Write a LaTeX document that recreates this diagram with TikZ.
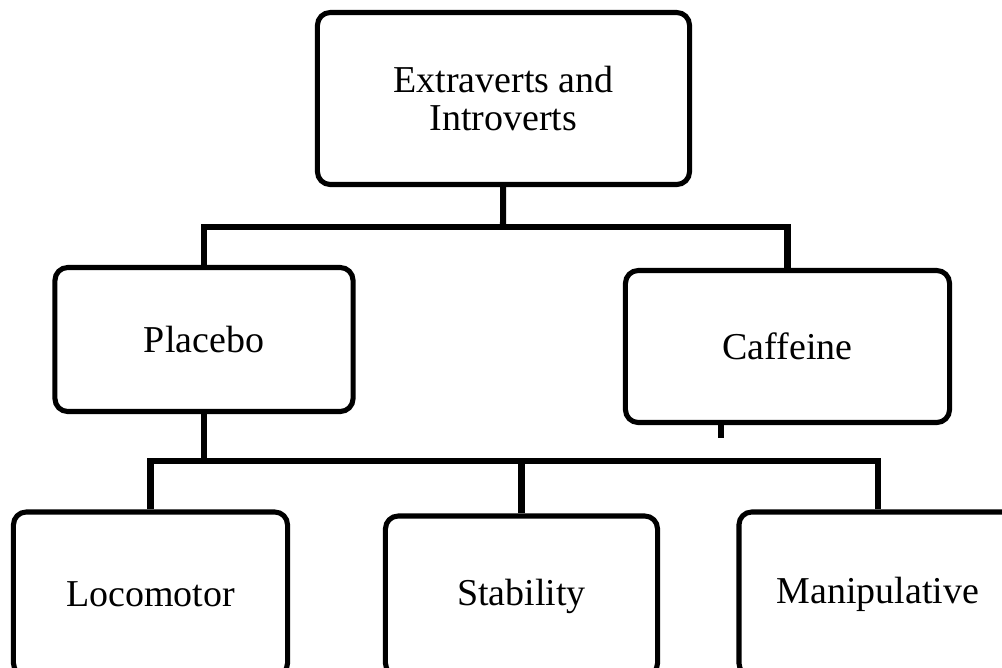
\documentclass[tikz,border=0pt]{standalone}
\usepackage{fontspec}
\setmainfont{Liberation Serif}
\usepackage{tikz}
\usetikzlibrary{positioning, calc}
\tikzstyle{box} = [rectangle, draw, line width=3.6pt, rounded corners=0.32cm, align=center, inner sep=0pt, font=\fontsize{27}{27}\selectfont]
\tikzstyle{line} = [draw, line width=4.3pt]

\begin{document}
\begin{tikzpicture}[x=0.025cm, y=-0.025cm]
        \clip (0,0) rectangle (1002,667);
        \useasboundingbox (0,0) rectangle (1002,667);

        % Nodes
        \node (group) [box, minimum width=9.3cm, minimum height=4.3cm] at (503.5,98.5) {Extraverts and\\Introverts};
        \node (placebo) [box, minimum width=7.45cm, minimum height=3.6cm] at (204,339.5) {Placebo};
        \node (caffeine) [box, minimum width=8.1cm, minimum height=3.8cm] at (787.5,346.5) {Caffeine};
        \node (loco) [box, minimum width=6.85cm, minimum height=4.1cm] at (150.5,594) {Locomotor};
        \node (stab) [box, minimum width=6.8cm, minimum height=4.0cm] at (521.5,596) {Stability};
        \node (manip) [box, minimum width=6.95cm, minimum height=4.1cm] at (878,594) {Manipulative};

        \coordinate (bus1) at (503,227);
        \coordinate (bus2) at (204,461);
        \coordinate (stub) at (721,438);

        % Edges
        \path [line] (group) -- (bus1);
        \path [line] (bus1) -| (placebo);
        \path [line] (bus1) -| (caffeine);
        \path [line] (placebo) -- (bus2);
        \path [line] (bus2) -| (loco);
        \path [line] (bus2) -| (stab);
        \path [line] (bus2) -| (manip);
        \path [line] (caffeine.south -| stub) -- (stub);

\end{tikzpicture}
\end{document}
